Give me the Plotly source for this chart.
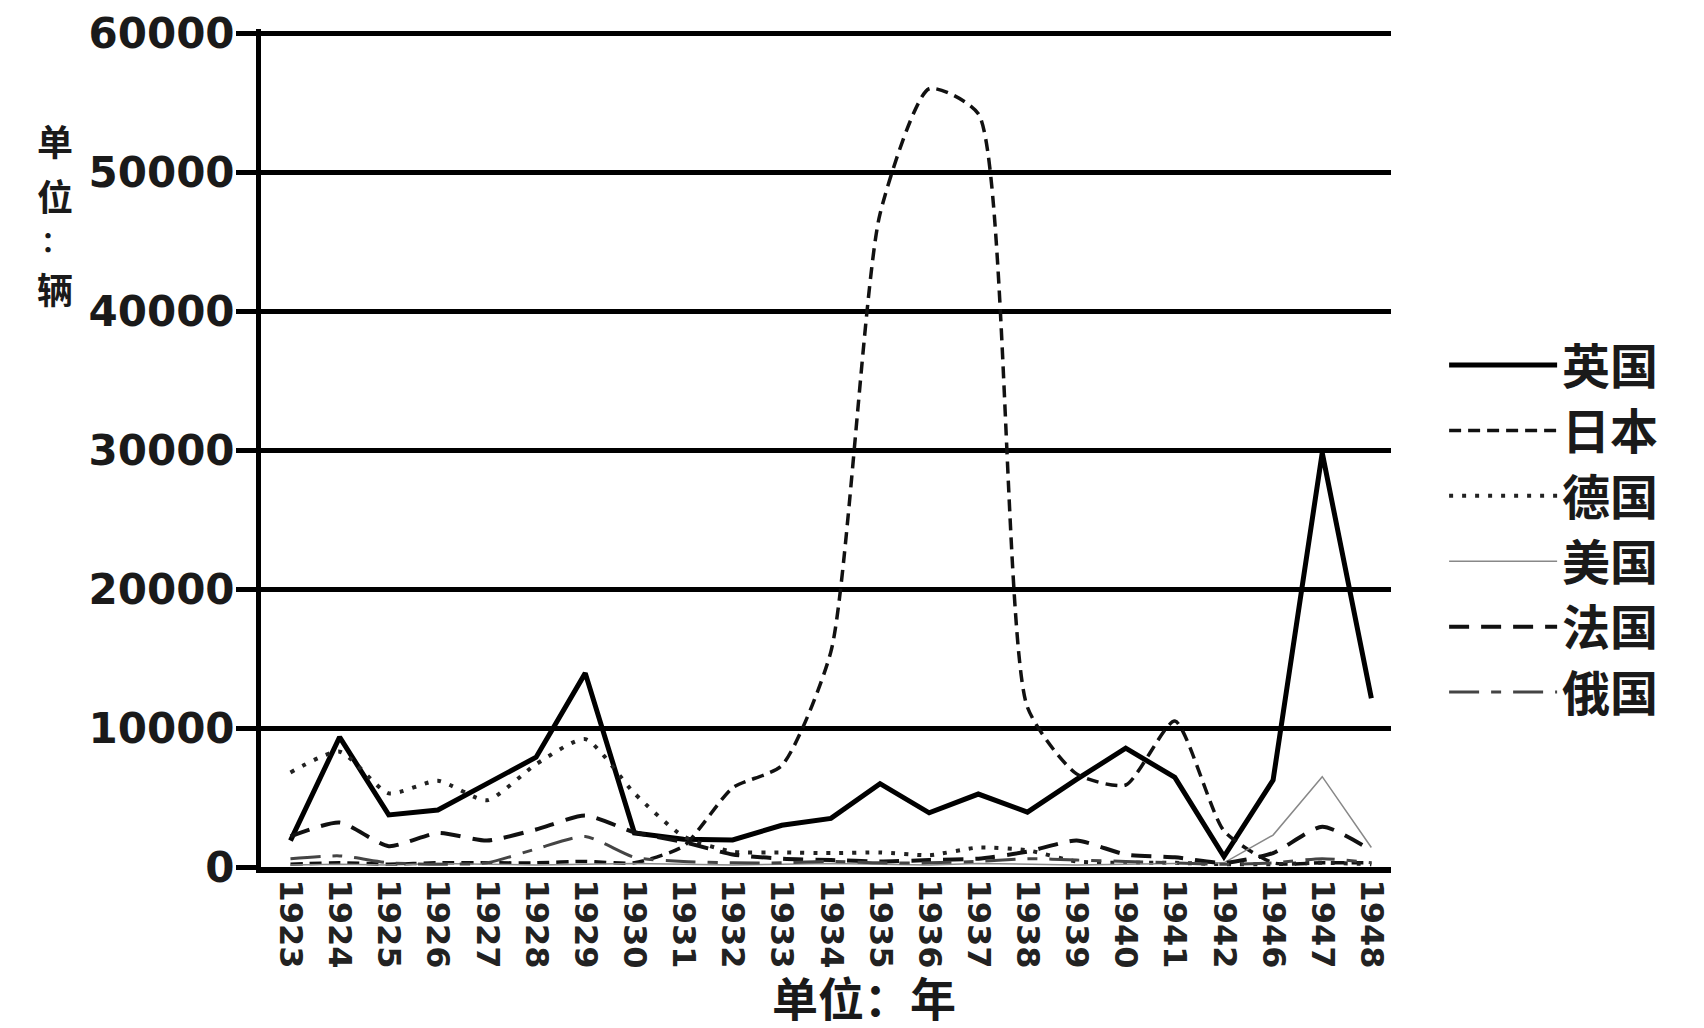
import plotly.graph_objects as go

# data
years = ["1923", "1924", "1925", "1926", "1927", "1928", "1929", "1930", "1931",
         "1932", "1933", "1934", "1935", "1936", "1937", "1938", "1939", "1940",
         "1941", "1942", "1946", "1947", "1948"]

uk = [1900, 9350, 3750, 4100, 6000, 7900, 13950, 2450, 2000, 1950, 3000, 3500,
      6000, 3900, 5250, 3950, 6300, 8550, 6450, 750, 6250, 29800, 12150]
japan = [200, 300, 200, 300, 300, 300, 400, 300, 1500, 5700, 7300, 15500,
         47000, 56000, 54200, 11500, 6700, 5900, 10500, 2600, 300, 300, 300]
germany = [6800, 8300, 5300, 6200, 4800, 7400, 9200, 5300, 2200, 1100, 1050, 1000,
           1050, 850, 1400, 1200, 400, 300, 300, 200, 200, 300, 200]
usa = [150, 200, 150, 250, 200, 150, 200, 250, 200, 150, 200, 250,
       200, 150, 250, 200, 150, 200, 250, 300, 2300, 6500, 1400]
france = [2200, 3200, 1500, 2450, 1900, 2700, 3700, 2500, 1800, 900, 600, 500,
          400, 500, 600, 1100, 1900, 900, 700, 300, 1000, 2900, 1200]
russia = [600, 800, 300, 200, 300, 1300, 2200, 700, 400, 300, 300, 400,
          300, 300, 400, 600, 500, 400, 300, 200, 300, 600, 300]

y_ticks = [0, 10000, 20000, 30000, 40000, 50000, 60000]

# y title is written top to bottom, one character per line
y_title_chars = ["单", "位", "：", "辆"]
y_title_pos = [0.8675, 0.802, 0.748, 0.691]
y_title_size = [36, 36, 28, 36]

NUM_FONT = "DejaVu Sans, Noto Sans CJK SC"
CJK_FONT = "Noto Sans CJK SC, DejaVu Sans"
INK = "#1a1a1a"

series = [
    ("英国", uk, dict(color="black", width=5), "linear"),
    ("日本", japan, dict(color="#111111", width=3.5, dash="12px,7px"), "spline"),
    ("德国", germany, dict(color="#222222", width=4, dash="4px,9px"), "spline"),
    ("美国", usa, dict(color="#888888", width=1.5), "linear"),
    ("法国", france, dict(color="#111111", width=4, dash="20px,12px"), "spline"),
    ("俄国", russia, dict(color="#444444", width=3, dash="30px,12px,10px,12px"), "spline"),
]

fig = go.Figure()

for name, vals, line, shape in series:
    fig.add_trace(go.Scatter(
        x=years, y=vals,
        mode="lines",
        name=name,
        line=dict(**line, shape=shape, smoothing=0.6 if shape == "spline" else None),
    ))

# page body keeps its 8px default margin, so the figure is sized to fit inside it
fig.update_layout(
    width=1688,
    height=1020,
    paper_bgcolor="white",
    plot_bgcolor="white",
    margin=dict(l=253, r=305, t=21, b=161),
    xaxis=dict(
        type="category",
        range=[-0.6, 22.4],
        automargin=False,
        showgrid=False,
        showline=True,
        linecolor="black",
        linewidth=6,
        ticks="",
        tickangle=90,
        tickfont=dict(family=NUM_FONT, size=32, color="#222", weight="bold"),
    ),
    yaxis=dict(
        range=[0, 60300],
        automargin=False,
        tickvals=y_ticks,
        tickformat="d",
        showgrid=True,
        gridcolor="black",
        gridwidth=5,
        zeroline=False,
        showline=True,
        linecolor="black",
        linewidth=5,
        ticks="outside",
        ticklen=20,
        tickwidth=5,
        tickcolor="black",
        ticklabelstandoff=-7,
        ticklabeloverflow="allow",
        tickfont=dict(family=NUM_FONT, size=42, color=INK, weight="bold"),
    ),
    legend=dict(
        x=1.047, y=0.644,
        xanchor="left", yanchor="top",
        font=dict(family=CJK_FONT, size=48, color=INK, weight="bold"),
        itemwidth=108,
        bgcolor="rgba(0,0,0,0)",
        tracegroupgap=0,
    ),
    showlegend=True,
)

# axis titles placed as annotations
for ch, yp, sz in zip(y_title_chars, y_title_pos, y_title_size):
    fig.add_annotation(
        text=ch,
        xref="paper", yref="paper",
        x=-0.182, y=yp,
        xanchor="center", yanchor="middle",
        showarrow=False,
        font=dict(family=CJK_FONT, size=sz, color=INK, weight="bold"),
    )
fig.add_annotation(
    text="单位：年",
    xref="paper", yref="paper",
    x=0.534, y=-0.154,
    xanchor="center", yanchor="middle",
    showarrow=False,
    font=dict(family=CJK_FONT, size=46, color=INK, weight="bold"),
)

fig.write_html("out.html")
